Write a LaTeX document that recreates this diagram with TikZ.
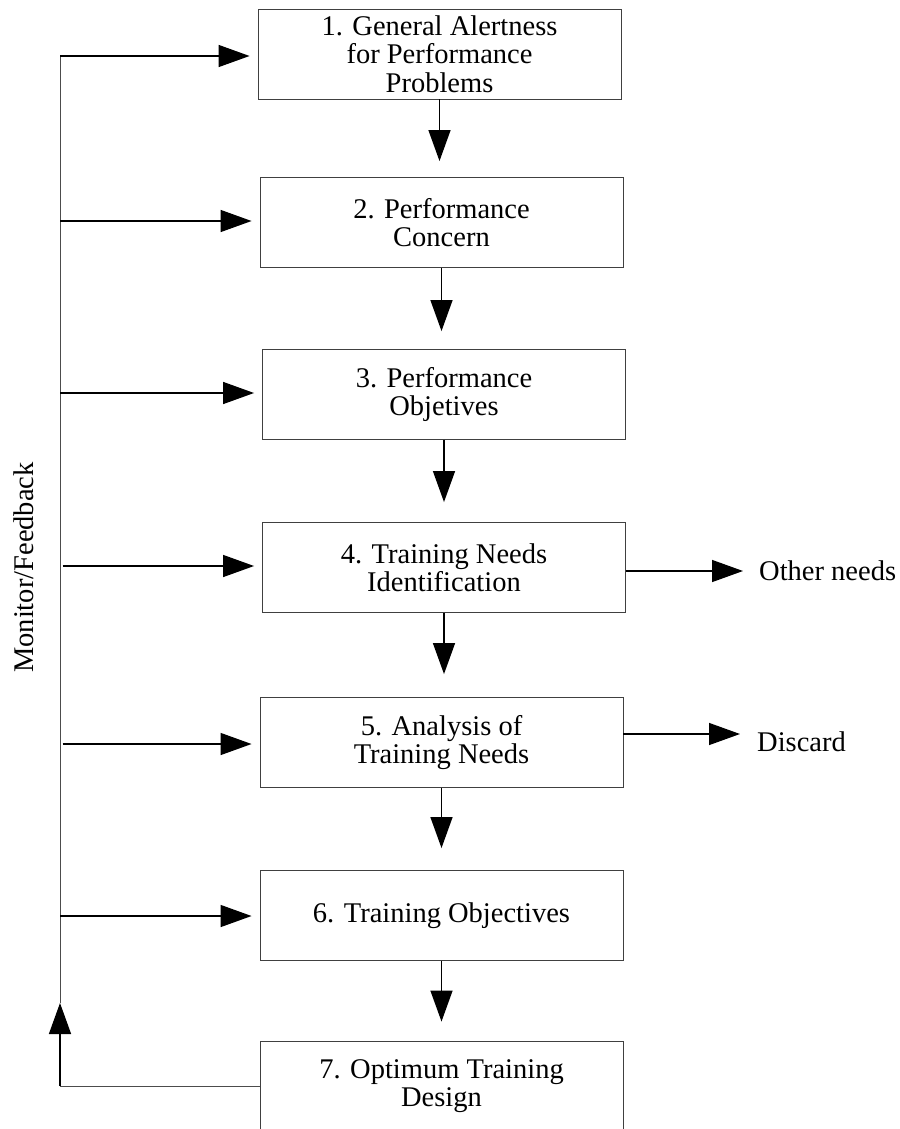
\documentclass[tikz,border=0pt]{standalone}
\usepackage{fontspec}
\setmainfont{Liberation Serif}
\usetikzlibrary{arrows.meta}
\begin{document}
\begin{tikzpicture}[x=1pt,y=-1pt,
  stagebox/.style={draw=black!75, line width=0.9pt, minimum width=363pt,
    minimum height=90pt, inner sep=0pt, align=center,
    font=\fontsize{28.5}{28.5}\selectfont},
  sidelabel/.style={inner sep=0pt, font=\fontsize{28.5}{28.5}\selectfont},
  flow/.style={line width=1.4pt, -{Triangle[length=31pt,width=22pt]}},
  feedline/.style={draw=black!70, line width=0.9pt}
]
\useasboundingbox (0,0) rectangle (899,1129);

% the seven stages
\node[stagebox] (b1) at (439.5,54)    {1. General Alertness\\for Performance\\Problems};
\node[stagebox] (b2) at (441.5,222.5) {2. Performance\\Concern};
\node[stagebox] (b3) at (444,394.5)   {3. Performance\\Objetives};
\node[stagebox] (b4) at (444,567.5)   {4. Training Needs\\Identification};
\node[stagebox] (b5) at (441.5,742.5) {5. Analysis of\\Training Needs};
\node[stagebox] (b6) at (441.5,915.5) {6. Training Objectives};
\node[stagebox] (b7) at (441.5,1086)  {7. Optimum Training\\Design};

% side outputs
\node[sidelabel, anchor=base west] (other)   at (759,580)   {Other needs};
\node[sidelabel, anchor=base west] (discard) at (757,751.5) {Discard};
\node[sidelabel, rotate=90, anchor=base] (mf) at (33,567.5) {Monitor/Feedback};

% main flow downwards
\draw[flow, shorten >=16pt] (b1.south) -- (b2.north -| b1.south);
\draw[flow, shorten >=18pt] (b2.south) -- (b3.north -| b2.south);
\draw[flow, shorten >=20pt] (b3.south) -- (b4.north -| b3.south);
\draw[flow, shorten >=23pt] (b4.south) -- (b5.north -| b4.south);
\draw[flow, shorten >=22pt] (b5.south) -- (b6.north -| b5.south);
\draw[flow, shorten >=19pt] (b6.south) -- (b7.north -| b6.south);

% exits to the right
\coordinate (otip) at (743,571);
\coordinate (dtip) at (740,734);
\draw[flow] (b4.east |- otip) -- (otip);
\draw[flow] (b5.east |- dtip) -- (dtip);

% monitor / feedback loop
\coordinate (ftop)    at (60,56);
\coordinate (fup)     at (60,1003);
\coordinate (fcorner) at (60,1086);
\draw[feedline] (b7.west) -- (fcorner);
\draw[flow] (fcorner) -- (fup);
\draw[feedline] (fup) -- (ftop);

\coordinate (f1) at (60,56);
\coordinate (f2) at (60,221);
\coordinate (f3) at (60,393);
\coordinate (f4) at (62.5,566);
\coordinate (f5) at (62.5,744);
\coordinate (f6) at (60,916);
\draw[flow, shorten >=8pt] (f1) -- (f1 -| b1.west);
\draw[flow, shorten >=8pt] (f2) -- (f2 -| b2.west);
\draw[flow, shorten >=8pt] (f3) -- (f3 -| b3.west);
\draw[flow, shorten >=8pt] (f4) -- (f4 -| b4.west);
\draw[flow, shorten >=8pt] (f5) -- (f5 -| b5.west);
\draw[flow, shorten >=8pt] (f6) -- (f6 -| b6.west);
\end{tikzpicture}
\end{document}
